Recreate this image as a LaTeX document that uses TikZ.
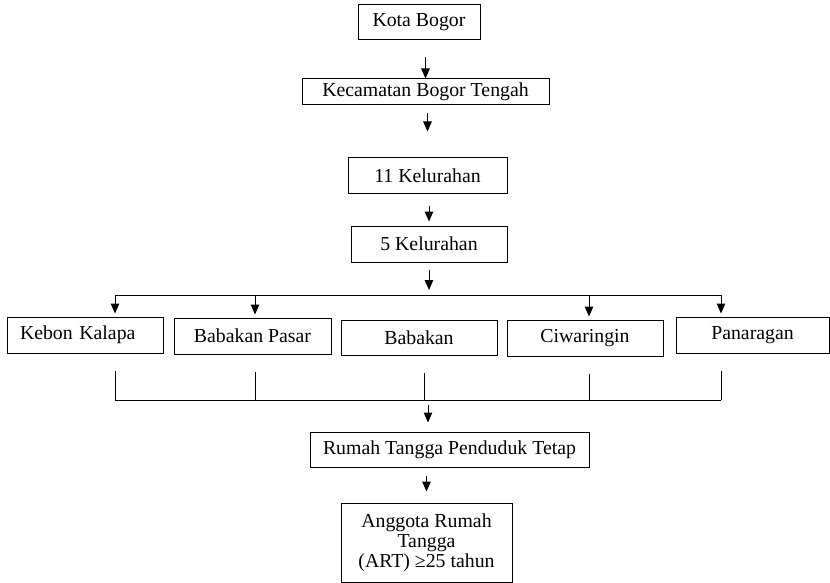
\documentclass[tikz,border=0pt]{standalone}
\usepackage{fontspec}
\setmainfont{Liberation Serif}
\usetikzlibrary{arrows.meta}
\begin{document}
\begin{tikzpicture}[x=1pt,y=-1pt,
  line width=1pt,
  box/.style={draw, inner sep=0pt, align=center,
    font=\fontsize{19.8}{20}\selectfont},
  arr/.style={-{Triangle[width=8.5pt,length=10pt]}}]
\useasboundingbox (0,0) rectangle (830,583);

% main chain
\node[box, minimum width=122, minimum height=35] (kota) at (419,22.5) {Kota Bogor};
\node[box, minimum width=247, minimum height=26] (kec) at (425.5,92) {Kecamatan Bogor Tengah};
\node[box, minimum width=159, minimum height=35] (k11) at (427.5,175.5) {11 Kelurahan};
\node[box, minimum width=156, minimum height=36] (k5) at (429,244) {5 Kelurahan};

% the five kelurahan
\node[box, text width=130pt, inner xsep=13pt, align=left, minimum height=36] (kebon) at (85,335) {Kebon Kalapa};
\node[box, minimum width=157, minimum height=36] (pasar) at (252.5,336) {Babakan Pasar};
\node[box, minimum width=156, minimum height=35] (babakan) at (419,337.5) {Babakan};
\node[box, minimum width=156, minimum height=36] (ciwa) at (585,338) {Ciwaringin};
\node[box, minimum width=153, minimum height=36] (panar) at (752.5,335) {Panaragan};

\node[box, minimum width=279, minimum height=35] (rumah) at (449.5,449.5) {Rumah Tangga Penduduk Tetap};
\node[box, minimum width=171, minimum height=79] (art) at (426.5,542.5) {Anggota Rumah\\Tangga\\(ART) ≥25 tahun};

% arrows of the main chain
\draw[arr, shorten <=17pt] (kec.north |- kota.south) -- (kec.north);
\draw[arr, shorten <=8pt, shorten >=26pt] (kec.south -| k11.north) -- (k11.north);
\draw[arr, shorten <=12pt, shorten >=4pt] (k11.south -| k5.north) -- (k5.north);

% distribution bus
\coordinate (tl) at (115,295);
\coordinate (tr) at (721,295);
\coordinate (tm) at (429,295);
\draw[arr, shorten <=7pt, shorten >=5pt] (k5.south) -- (tm);
\draw (tl) -- (tr);
\foreach \x/\n in {115/kebon, 255/pasar, 589/ciwa, 721/panar}
  \draw[arr, shorten >=3pt] (\x,295) -- (\x,295 |- \n.north);

% collecting bus
\coordinate (bl) at (115,400);
\coordinate (br) at (721,400);
\coordinate (bm) at (428,400);
\foreach \x/\n in {115/kebon, 255/pasar, 424/babakan, 589/ciwa, 721/panar}
  \draw[shorten <=17pt] (\x,400 |- \n.south) -- (\x,400);
\draw (bl) -- (br);
\draw[arr, shorten <=5pt, shorten >=9pt] (bm) -- (bm |- rumah.north);
\draw[arr, shorten <=8pt, shorten >=11pt] (rumah.south -| art.north) -- (art.north);
\end{tikzpicture}
\end{document}
